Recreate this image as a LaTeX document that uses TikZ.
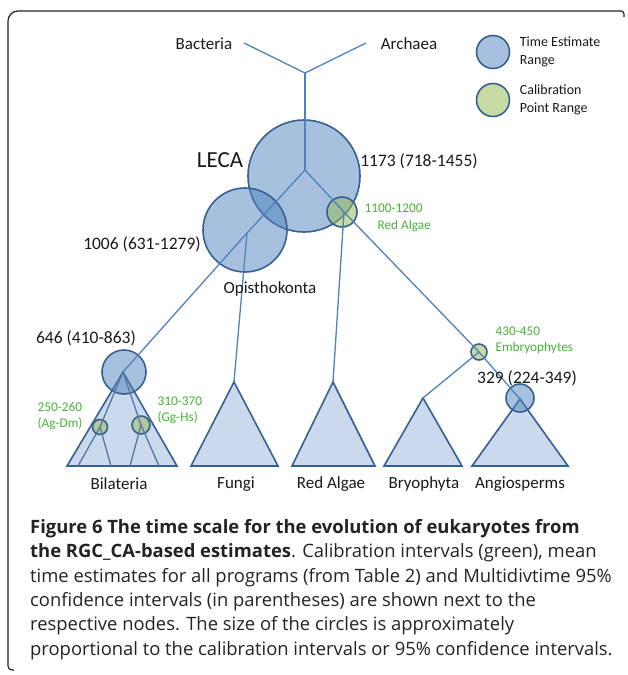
\documentclass[tikz,border=0pt]{standalone}
\usepackage{fontspec}
\setmainfont{Carlito}
\newfontfamily\capfont{Open Sans}
\usetikzlibrary{positioning}
\definecolor{branchblue}{RGB}{79,129,189}
\definecolor{edgeblue}{RGB}{55,96,146}
\definecolor{calgreen}{RGB}{155,187,89}
\definecolor{caltext}{RGB}{70,180,55}
\definecolor{captext}{RGB}{35,35,35}
\tikzset{
  branch/.style={draw=branchblue, line width=1.3pt},
  timecirc/.style={circle, draw=edgeblue, line width=1.6pt, fill=branchblue,
                   fill opacity=0.5, minimum size=#1, inner sep=0pt},
  calcirc/.style={circle, draw=edgeblue, line width=1.6pt, fill=calgreen,
                  fill opacity=0.55, minimum size=#1, inner sep=0pt},
  cladetri/.style={draw=edgeblue, line width=1.6pt, fill=branchblue!30,
                   line join=miter},
  subbranch/.style={draw=edgeblue!85, line width=1.3pt},
  taxlbl/.style={font=\fontsize{17}{19}\selectfont, text=black!90},
  agelbl/.style={font=\fontsize{17.5}{20}\selectfont, text=black!90},
  callbl/.style={font=\fontsize{13.3}{16}\selectfont, text=caltext, align=left},
  legendlbl/.style={font=\fontsize{14}{18}\selectfont, text=black!90, align=left},
}

\begin{document}
\begin{tikzpicture}[x=1pt, y=-1pt]
  \useasboundingbox (0,0) rectangle (627,675);

  % frame
  \draw[line width=1.2pt, captext, rounded corners=4pt] (14,670) -- (8,670)
    [rounded corners=10pt] -- (8,11) [rounded corners=3pt] -- (624,11) -- (624,17);

  % tree points
  \coordinate (bactend) at (244,43);
  \coordinate (archend) at (366,43);
  \coordinate (root)    at (305,73);
  \coordinate (leca)    at (305,170);
  \coordinate (opis)    at (247,233);
  \coordinate (ralg)    at (344,212);
  \coordinate (embr)    at (479,352);
  \coordinate (bilat)   at (123,372);
  \coordinate (angio)   at (520,399);
  \coordinate (fungtop) at (234,382);
  \coordinate (ralgtop) at (333,382);
  \coordinate (bryotop) at (423,398);
  \coordinate (agdm)    at (100,427);
  \coordinate (gghs)    at (141,425);

  % clades
  \draw[cladetri] (bilat) -- (67,466) -- (177,466) -- cycle;
  \draw[cladetri] (fungtop) -- (191,466) -- (278,466) -- cycle;
  \draw[cladetri] (ralgtop) -- (292,466) -- (375,466) -- cycle;
  \draw[cladetri] (bryotop) -- (384,466) -- (462,466) -- cycle;
  \draw[cladetri] (angio) -- (472,466) -- (568,466) -- cycle;

  % circles
  \node[timecirc=112pt] (lecacirc)  at (304,176) {};
  \node[timecirc=84pt]  (opiscirc)  at (245,230) {};
  \node[calcirc=30pt]   (ralgcirc)  at (342,212) {};
  \node[timecirc=44pt]  (bilatcirc) at (124,372) {};
  \node[calcirc=15pt]   (agdmcirc)  at (agdm) {};
  \node[calcirc=18pt]   (gghscirc)  at (gghs) {};
  \node[calcirc=16pt]   (embrcirc)  at (embr) {};
  \node[timecirc=28pt]  (angiocirc) at (520,398) {};

  % branches
  \draw[branch] (bactend) -- (root) -- (archend);
  \draw[branch] (root) -- (leca);
  \draw[branch] (leca) -- (opis) -- (bilat);
  \draw[branch] (opis) -- (fungtop);
  \draw[branch] (leca) -- (ralg) -- (embr) -- (angio);
  \draw[branch] (ralg) -- (ralgtop);
  \draw[branch] (embr) -- (bryotop);
  \draw[subbranch] (bilat) -- (agdm) -- (78,466);
  \draw[subbranch] (agdm) -- (111,466);
  \draw[subbranch] (bilat) -- (gghs) -- (159,466);
  \draw[subbranch] (gghs) -- (130,466);

  % labels
  \node[taxlbl] (bact) at (204,44) {Bacteria};
  \node[taxlbl] (arch) at (409,44) {Archaea};
  \node[font=\fontsize{23}{26}\selectfont, text=black!90] (lecalbl) at (220,160) {LECA};
  \node[agelbl] (lecaage)  at (419,161) {1173 (718-1455)};
  \node[callbl, anchor=west] (ralgcal) at (361,208) {1100-1200};
  \node[callbl, anchor=west] (ralgname) at (374,226) {Red Algae};
  \node[agelbl] (opisage)  at (142,244) {1006 (631-1279)};
  \node[taxlbl] (opislbl)  at (270,289) {Opisthokonta};
  \node[agelbl] (bilatage) at (86,338) {646 (410-863)};
  \node[callbl, anchor=west] (agdmlbl) at (34,416) {250-260\\(Ag-Dm)};
  \node[callbl, anchor=west] (gghslbl) at (154,410) {310-370\\(Gg-Hs)};
  \node[callbl, anchor=west] (embrlbl) at (492,340) {430-450\\Embryophytes};
  \node[agelbl] (angioage) at (527,378) {329 (224-349)};

  \node[taxlbl] (bilatlbl) at (119,484) {Bilateria};
  \node[taxlbl] (funglbl)  at (236,484) {Fungi};
  \node[taxlbl] (ralglbl)  at (331,484) {Red Algae};
  \node[taxlbl] (bryolbl)  at (424,484) {Bryophyta};
  \node[taxlbl] (angiolbl) at (520,484) {Angiosperms};

  % legend
  \node[timecirc=33pt] (keytime) at (493,52) {};
  \node[calcirc=33pt]  (keycal)  at (493,100) {};
  \node[legendlbl, right=6pt of keytime] (keytimelbl) {Time Estimate\\Range};
  \node[legendlbl, right=6pt of keycal]  (keycallbl)  {Calibration\\Point Range};

  % caption
  \node[anchor=north west, inner sep=0pt, align=left, text=captext,
        font=\capfont\fontsize{18.4}{24.4}\selectfont] (caption) at (30,519)
    {\textbf{Figure 6 The time scale for the evolution of eukaryotes from}\\
     \textbf{the RGC\_CA-based estimates}. Calibration intervals (green), mean\\
     time estimates for all programs (from Table 2) and Multidivtime 95\%\\
     confidence intervals (in parentheses) are shown next to the\\
     respective nodes. The size of the circles is approximately\\
     proportional to the calibration intervals or 95\% confidence intervals.};
\end{tikzpicture}
\end{document}
